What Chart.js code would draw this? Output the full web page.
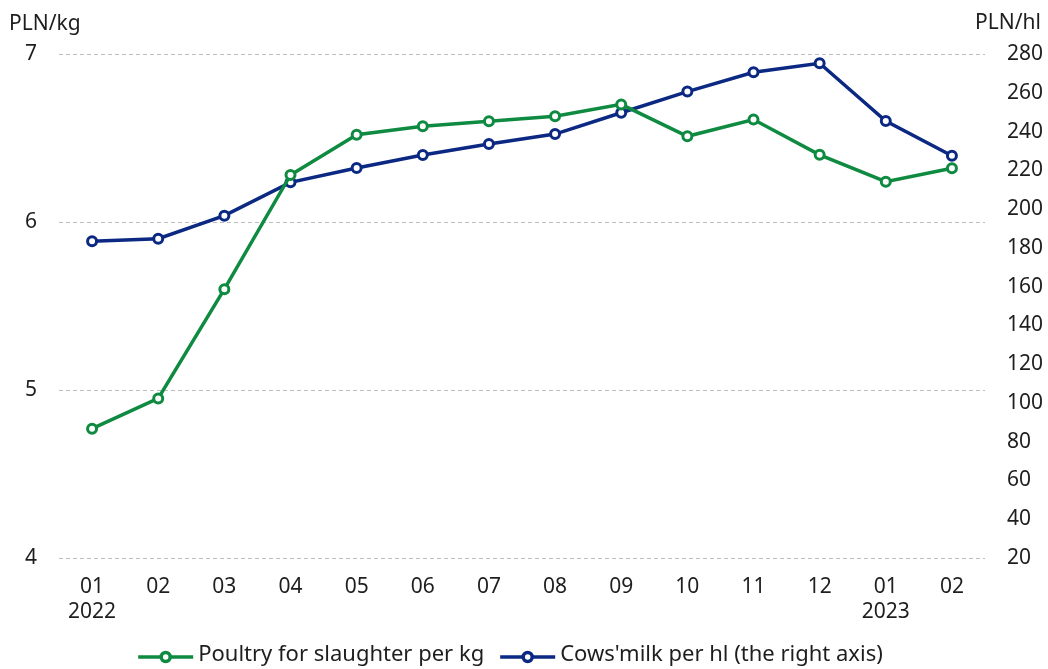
<!DOCTYPE html>
<html lang="en">
<head>
    <meta charset="UTF-8">
    <title>Poultry and milk prices</title>
    <script src="https://cdn.jsdelivr.net/npm/chart.js"></script>
    <style>
        html, body { margin: 0; padding: 0; background: #fff; }
        #wrap { width: 1048px; height: 669px; }
    </style>
</head>
<body>
    <div id="wrap"><canvas id="priceChart"></canvas></div>

    <script>
        // data
        const months = [['01', '2022'], '02', '03', '04', '05', '06', '07', '08', '09', '10', '11', '12', ['01', '2023'], '02'];
        const poultryPerKg = [4.77, 4.95, 5.60, 6.28, 6.52, 6.57, 6.60, 6.63, 6.70, 6.51, 6.61, 6.40, 6.24, 6.32];
        const milkPerHl = [183.4, 184.7, 196.6, 213.8, 221.2, 227.9, 233.6, 238.7, 249.7, 260.6, 270.6, 275.2, 245.4, 227.5];
        const seriesNames = ['Poultry for slaughter per kg', "Cows'milk per hl (the right axis)"];

        const green = '#0f8a41';
        const blue = '#0b2883';
        const textColor = '#1e1e1e';
        const fontFamily = "'Noto Sans', sans-serif";

        // unit labels above the y axes + legend row under the x axis
        const extras = {
            id: 'extras',
            afterDraw(chart) {
                const ctx = chart.ctx;
                ctx.save();
                ctx.fillStyle = textColor;
                ctx.textBaseline = 'middle';
                ctx.font = '21px ' + fontFamily;
                ctx.textAlign = 'left';
                ctx.fillText('PLN/kg', 9, 24);
                ctx.textAlign = 'right';
                ctx.fillText('PLN/hl', 1041, 23);

                // legend: line with a hollow circle, then the series name
                ctx.font = '22px ' + fontFamily;
                ctx.textAlign = 'left';
                const markW = 55, gap = 5, itemGap = 16;
                const items = chart.data.datasets.map(ds => ({
                    text: ds.label, color: ds.borderColor, w: ctx.measureText(ds.label).width
                }));
                const total = items.reduce((s, it) => s + markW + gap + it.w, 0) + itemGap * (items.length - 1);
                let x = 510.5 - total / 2;
                const y = 657;
                items.forEach(it => {
                    ctx.strokeStyle = it.color;
                    ctx.lineWidth = 3.5;
                    ctx.beginPath(); ctx.moveTo(x, y); ctx.lineTo(x + markW, y); ctx.stroke();
                    ctx.fillStyle = '#fff';
                    ctx.beginPath(); ctx.arc(x + markW / 2, y, 4.5, 0, Math.PI * 2); ctx.fill(); ctx.stroke();
                    ctx.fillStyle = textColor;
                    ctx.fillText(it.text, x + markW + gap, y - 2);
                    x += markW + gap + it.w + itemGap;
                });
                ctx.restore();
            }
        };

        new Chart(document.getElementById('priceChart'), {
            type: 'line',
            data: {
                labels: months,
                datasets: [{
                    label: seriesNames[0],
                    data: poultryPerKg,
                    yAxisID: 'y',
                    borderColor: green,
                    backgroundColor: '#fff',
                    borderWidth: 3.5,
                    pointRadius: 4.5,
                    pointBorderWidth: 3,
                    pointBackgroundColor: '#fff',
                    tension: 0
                }, {
                    label: seriesNames[1],
                    data: milkPerHl,
                    yAxisID: 'y1',
                    borderColor: blue,
                    backgroundColor: '#fff',
                    borderWidth: 3.5,
                    pointRadius: 4.5,
                    pointBorderWidth: 3,
                    pointBackgroundColor: '#fff',
                    tension: 0
                }]
            },
            options: {
                responsive: true,
                maintainAspectRatio: false,
                animation: false,
                layout: { padding: { top: 54, left: 0, right: 0, bottom: 0 } },
                plugins: {
                    tooltip: { enabled: false },
                    legend: { display: false }
                },
                scales: {
                    x: {
                        offset: true,
                        grid: { display: false },
                        border: { display: false },
                        ticks: { color: textColor, font: { size: 21, family: fontFamily }, padding: 8, maxRotation: 0 },
                        afterFit(scale) { scale.height = 111; }
                    },
                    y: {
                        position: 'left',
                        min: 4, max: 7,
                        ticks: { stepSize: 1, color: textColor, font: { size: 21, family: fontFamily }, padding: 22 },
                        grid: { color: '#bdbdbd', lineWidth: 1, drawTicks: false },
                        border: { display: false, dash: [4, 3] },
                        afterFit(scale) { scale.width = 59; }
                    },
                    y1: {
                        position: 'right',
                        min: 20, max: 280,
                        ticks: { stepSize: 20, color: textColor, font: { size: 21, family: fontFamily }, padding: 22 },
                        grid: { display: false, drawTicks: false },
                        border: { display: false },
                        afterFit(scale) { scale.width = 63; }
                    }
                }
            },
            plugins: [extras]
        });
    </script>
</body>
</html>
